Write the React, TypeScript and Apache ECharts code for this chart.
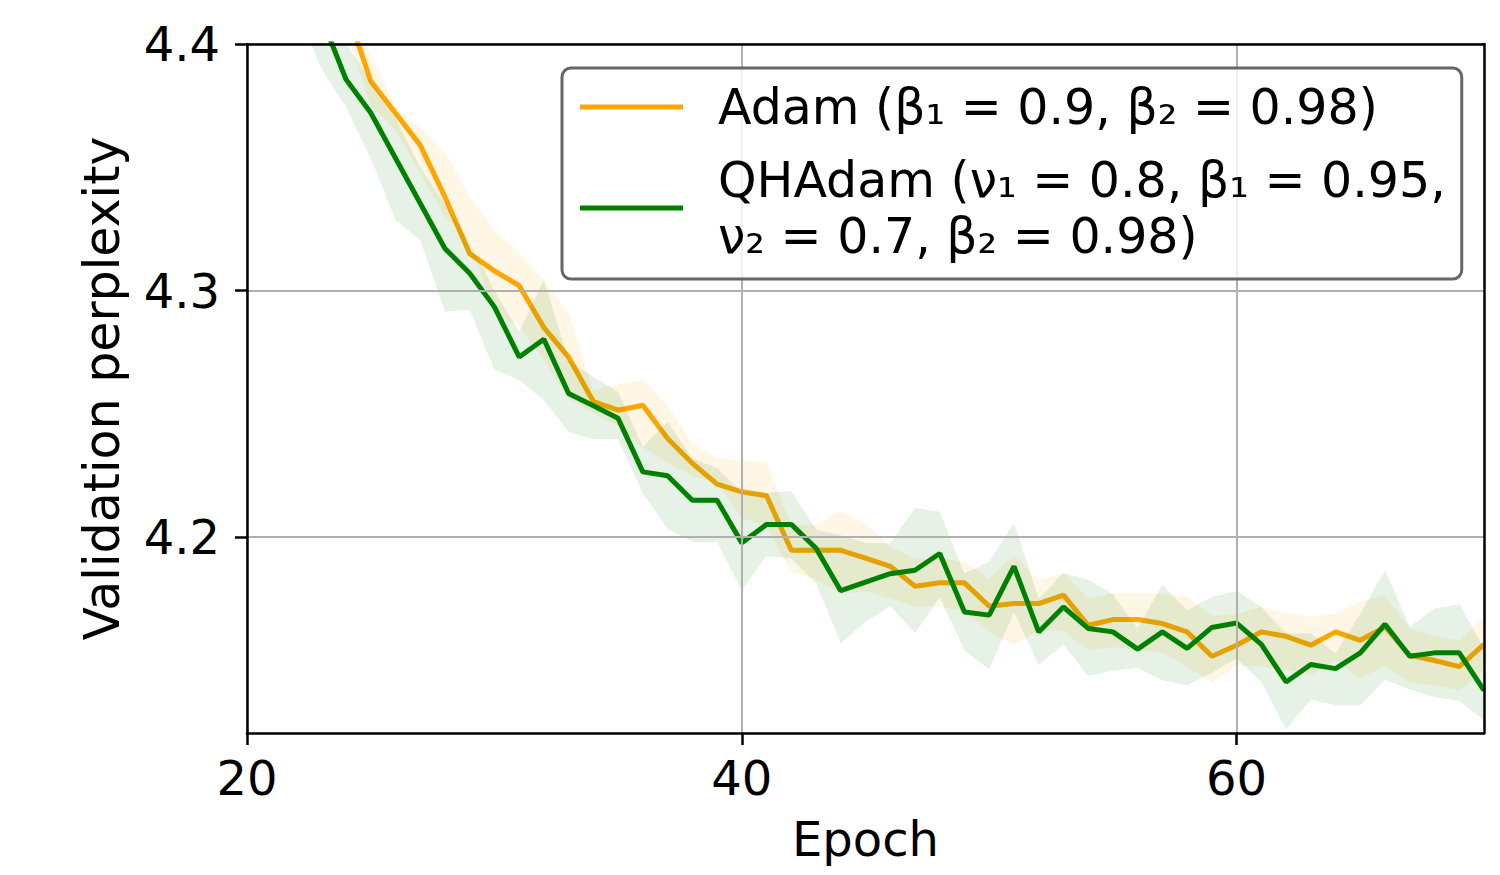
import { useEffect, useRef } from "react";
import * as echarts from "echarts";

const epochs = [20, 21, 22, 23, 24, 25, 26, 27, 28, 29, 30, 31, 32, 33, 34, 35, 36, 37, 38, 39, 40, 41, 42, 43, 44, 45, 46, 47, 48, 49, 50, 51, 52, 53, 54, 55, 56, 57, 58, 59, 60, 61, 62, 63, 64, 65, 66, 67, 68, 69, 70];

const adamMean = [4.55, 4.51, 4.47, 4.44, 4.415, 4.385, 4.372, 4.359, 4.338, 4.315, 4.308, 4.302, 4.285, 4.273, 4.255, 4.2515, 4.2535, 4.24, 4.23, 4.2215, 4.2184, 4.2168, 4.1947, 4.1947, 4.1947, 4.1915, 4.1882, 4.1801, 4.1815, 4.1815, 4.172, 4.1731, 4.1731, 4.1765, 4.1643, 4.1666, 4.1666, 4.165, 4.1616, 4.1517, 4.1562, 4.1616, 4.1598, 4.1562, 4.1616, 4.1582, 4.1636, 4.1521, 4.15, 4.1475, 4.1565];
const adamLower = [4.53, 4.49, 4.45, 4.425, 4.405, 4.375, 4.3651, 4.3475, 4.33, 4.3205, 4.29, 4.2853, 4.272, 4.2563, 4.2502, 4.245, 4.2366, 4.23, 4.225, 4.222, 4.208, 4.204, 4.1859, 4.183, 4.1772, 4.178, 4.1751, 4.1718, 4.172, 4.17, 4.1616, 4.1562, 4.1623, 4.162, 4.1542, 4.1555, 4.1542, 4.1533, 4.1474, 4.141, 4.148, 4.1475, 4.1463, 4.144, 4.15, 4.1427, 4.148, 4.141, 4.14, 4.1379, 4.146];
const adamUpper = [4.57, 4.53, 4.49, 4.455, 4.425, 4.395, 4.3746, 4.366, 4.3563, 4.338, 4.3245, 4.3151, 4.3043, 4.2908, 4.2596, 4.262, 4.264, 4.2535, 4.238, 4.2319, 4.231, 4.2306, 4.205, 4.205, 4.2105, 4.2058, 4.1961, 4.1914, 4.1914, 4.19, 4.183, 4.1927, 4.1823, 4.1855, 4.175, 4.1774, 4.1774, 4.177, 4.1758, 4.168, 4.169, 4.1717, 4.1693, 4.1676, 4.169, 4.1738, 4.1765, 4.163, 4.16, 4.158, 4.168];

const qhMean = [4.52, 4.48, 4.44, 4.411, 4.3857, 4.3721, 4.3538, 4.3354, 4.3171, 4.307, 4.2934, 4.2731, 4.2803, 4.2583, 4.2533, 4.2482, 4.2265, 4.2249, 4.215, 4.215, 4.1977, 4.2052, 4.2052, 4.1955, 4.1783, 4.1818, 4.1852, 4.1866, 4.1934, 4.1697, 4.1684, 4.1882, 4.1616, 4.1717, 4.163, 4.1616, 4.1546, 4.1616, 4.1549, 4.1634, 4.1652, 4.1565, 4.1413, 4.1484, 4.1467, 4.1531, 4.1647, 4.1517, 4.1531, 4.1531, 4.1379];
const qhLower = [4.5, 4.455, 4.415, 4.39, 4.3746, 4.3536, 4.3286, 4.3205, 4.2914, 4.2921, 4.268, 4.2637, 4.2556, 4.2427, 4.2397, 4.2397, 4.2177, 4.2035, 4.1981, 4.1981, 4.1785, 4.1923, 4.1914, 4.1812, 4.1571, 4.1657, 4.172, 4.1612, 4.1758, 4.1542, 4.1463, 4.1697, 4.1481, 4.1566, 4.1436, 4.1458, 4.147, 4.142, 4.14, 4.145, 4.1508, 4.1413, 4.122, 4.1342, 4.1319, 4.1319, 4.1423, 4.1382, 4.1352, 4.1336, 4.1258];
const qhUpper = [4.54, 4.5, 4.465, 4.43, 4.4, 4.385, 4.37, 4.35, 4.335, 4.32, 4.3, 4.2833, 4.3043, 4.2718, 4.265, 4.259, 4.2366, 4.2468, 4.232, 4.228, 4.2184, 4.218, 4.2187, 4.2031, 4.2008, 4.1977, 4.1974, 4.2119, 4.2103, 4.1853, 4.19, 4.2058, 4.1751, 4.1855, 4.1828, 4.1769, 4.163, 4.1808, 4.1704, 4.1758, 4.1782, 4.1717, 4.1609, 4.161, 4.1528, 4.169, 4.1866, 4.1636, 4.1711, 4.1728, 4.155];

const xTicks = [20, 40, 60];
const yTicks = [4.2, 4.3, 4.4];

const adamName = "Adam (β₁ = 0.9, β₂ = 0.98)";
const qhName = "QHAdam (ν₁ = 0.8, β₁ = 0.95,\nν₂ = 0.7, β₂ = 0.98)";

const FONT = "DejaVu Sans";
const X_MIN = 20;
const X_MAX = 70;
const Y_MIN = 4.1206;
const Y_MAX = 4.4;

function bandSeries(name: string, lower: number[], upper: number[], color: string, z: number) {
  return {
    type: "custom",
    name,
    silent: true,
    clip: true,
    z,
    data: epochs.map((e, i) => [e, lower[i], upper[i]]),
    encode: { x: 0, y: [1, 2] },
    renderItem: (params: any, api: any) => {
      if (params.dataIndex !== 0) return null;
      const top = epochs.map((e, i) => api.coord([e, upper[i]]));
      const bot = epochs.map((e, i) => api.coord([e, lower[i]])).reverse();
      const cs = params.coordSys;
      return {
        type: "polygon",
        shape: { points: top.concat(bot) },
        style: { fill: color },
        clipPath: { type: "rect", shape: { x: cs.x, y: cs.y, width: cs.width, height: cs.height } },
      };
    },
  };
}

const spine = { show: true, onZero: false, lineStyle: { color: "#000000", width: 2.5 } };

export default function App() {
  const ref = useRef<HTMLDivElement>(null);
  useEffect(() => {
    if (!ref.current) return;
    const chart = echarts.init(ref.current, undefined, { renderer: "svg" });
    chart.setOption({
      animation: false,
      backgroundColor: "#ffffff",
      textStyle: { fontFamily: FONT },
      grid: {
        left: 247,
        right: 16,
        top: 44,
        bottom: 142,
        show: false,
      },
      xAxis: [
        {
          type: "value",
          min: X_MIN,
          max: X_MAX,
          position: "bottom",
          name: "Epoch",
          nameLocation: "middle",
          nameGap: 82,
          nameTextStyle: { fontFamily: FONT, fontSize: 48, color: "#000" },
          axisLine: spine,
          axisTick: { show: true, length: 12, customValues: xTicks, lineStyle: { color: "#000", width: 2.5 } },
          axisLabel: { customValues: xTicks, margin: 21, fontFamily: FONT, fontSize: 48, color: "#000" },
          splitLine: { show: true, lineStyle: { color: "#b0b0b0", width: 2 } },
          z: 5,
        },
        {
          type: "value",
          min: X_MIN,
          max: X_MAX,
          position: "top",
          axisLine: spine,
          axisTick: { show: false },
          axisLabel: { show: false },
          splitLine: { show: false },
          z: 5,
        },
      ],
      yAxis: [
        {
          type: "value",
          min: Y_MIN,
          max: Y_MAX,
          position: "left",
          name: "Validation perplexity",
          nameLocation: "middle",
          nameRotate: 90,
          nameGap: 120,
          nameTextStyle: { fontFamily: FONT, fontSize: 49, color: "#000" },
          axisLine: spine,
          axisTick: { show: true, length: 12, customValues: yTicks, lineStyle: { color: "#000", width: 2.5 } },
          axisLabel: {
            customValues: yTicks,
            margin: 27,
            fontFamily: FONT,
            fontSize: 48,
            color: "#000",
            formatter: (v: number) => v.toFixed(1),
          },
          splitLine: { show: true, lineStyle: { color: "#b0b0b0", width: 2 } },
          z: 5,
        },
        {
          type: "value",
          min: Y_MIN,
          max: Y_MAX,
          position: "right",
          axisLine: spine,
          axisTick: { show: false },
          axisLabel: { show: false },
          splitLine: { show: false },
          z: 5,
        },
      ],
      legend: {
        orient: "vertical",
        left: 562,
        top: 68,
        data: [adamName, qhName],
        icon: "rect",
        itemWidth: 103,
        itemHeight: 5,
        itemGap: 17,
        padding: [11, 16, 15, 18],
        backgroundColor: "rgba(255,255,255,0.8)",
        borderColor: "#666666",
        borderWidth: 3,
        borderRadius: 9,
        textStyle: {
          fontFamily: FONT,
          fontSize: 49,
          color: "#000",
          lineHeight: 56,
          padding: [0, 0, 0, 30],
        },
        selectedMode: false,
        z: 10,
      },
      series: [
        bandSeries("adamBand", adamLower, adamUpper, "rgba(255,165,0,0.1)", 1),
        {
          type: "line",
          name: adamName,
          data: epochs.map((e, i) => [e, adamMean[i]]),
          showSymbol: false,
          symbol: "none",
          clip: true,
          z: 2,
          itemStyle: { color: "#FFA500" },
          lineStyle: { color: "#FFA500", width: 5 },
        },
        bandSeries("qhBand", qhLower, qhUpper, "rgba(0,128,0,0.1)", 3),
        {
          type: "line",
          name: qhName,
          data: epochs.map((e, i) => [e, qhMean[i]]),
          showSymbol: false,
          symbol: "none",
          clip: true,
          z: 4,
          itemStyle: { color: "#008000" },
          lineStyle: { color: "#008000", width: 5 },
        },
      ],
    });
    return () => chart.dispose();
  }, []);
  return <div ref={ref} style={{ width: 1500, height: 875, position: "absolute", left: 0, top: 0 }} />;
}
